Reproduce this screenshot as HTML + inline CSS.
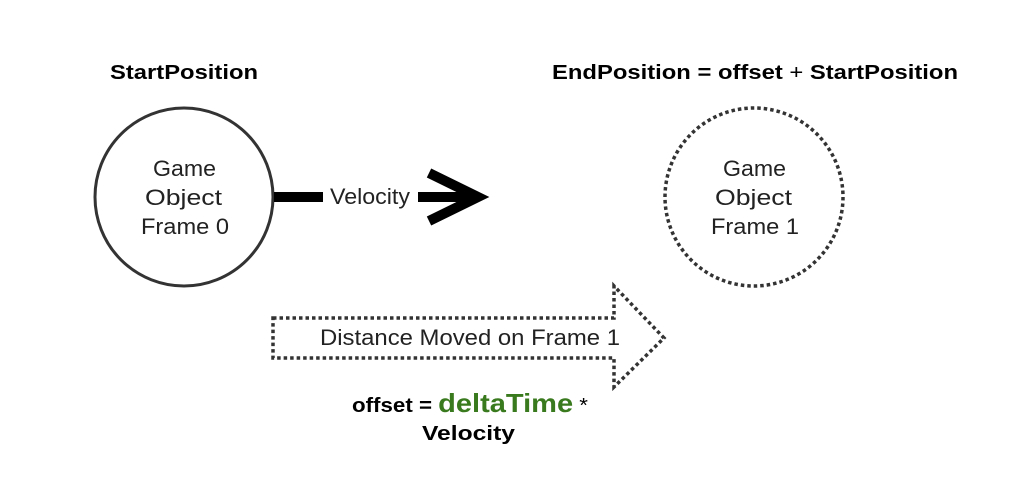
<!DOCTYPE html>
<html><head><style>body{margin:0;background:#fff}</style></head><body>
<svg width="1019" height="486" xmlns="http://www.w3.org/2000/svg" font-family="Liberation Sans, sans-serif">
<rect width="1019" height="486" fill="#fff"/>
<circle cx="184" cy="197" r="89" fill="#fff" stroke="#333" stroke-width="3"/>
<circle cx="754" cy="197" r="89" fill="#fff" stroke="#333" stroke-width="3.5" stroke-dasharray="3.5 3"/>
<line x1="274" y1="197" x2="323" y2="197" stroke="#000" stroke-width="10"/>
<line x1="418" y1="197" x2="468" y2="197" stroke="#000" stroke-width="10"/>
<polyline points="429,173 478,197 429,221" fill="none" stroke="#000" stroke-width="10"/>
<polygon points="273,318 614,318 614,286 664,338 614,387 614,358 273,358" fill="#fff" stroke="#333" stroke-width="3.5" stroke-dasharray="3.5 3"/>
<text x="110" y="79" font-size="20" font-weight="bold" textLength="148" lengthAdjust="spacingAndGlyphs">StartPosition</text>
<text x="552" y="79" font-size="20" font-weight="bold" textLength="406" lengthAdjust="spacingAndGlyphs">EndPosition = offset <tspan font-weight="normal">+</tspan> StartPosition</text>
<g font-size="22" fill="#222">
<text x="153" y="176" textLength="63" lengthAdjust="spacingAndGlyphs">Game</text>
<text x="145" y="205" textLength="77" lengthAdjust="spacingAndGlyphs">Object</text>
<text x="141" y="234" textLength="88" lengthAdjust="spacingAndGlyphs">Frame 0</text>
<text x="723" y="176" textLength="63" lengthAdjust="spacingAndGlyphs">Game</text>
<text x="715" y="205" textLength="77" lengthAdjust="spacingAndGlyphs">Object</text>
<text x="711" y="234" textLength="88" lengthAdjust="spacingAndGlyphs">Frame 1</text>
<text x="330" y="204" textLength="80" lengthAdjust="spacingAndGlyphs">Velocity</text>
<text x="320" y="345" textLength="300" lengthAdjust="spacingAndGlyphs">Distance Moved on Frame 1</text>
</g>
<text x="352" y="412" font-size="20" font-weight="bold" textLength="236" lengthAdjust="spacingAndGlyphs">offset = <tspan fill="#3a7a1e" font-size="26">deltaTime</tspan> <tspan font-weight="normal">*</tspan></text>
<text x="422" y="440" font-size="20" font-weight="bold" textLength="93" lengthAdjust="spacingAndGlyphs">Velocity</text>
</svg>
</body></html>
